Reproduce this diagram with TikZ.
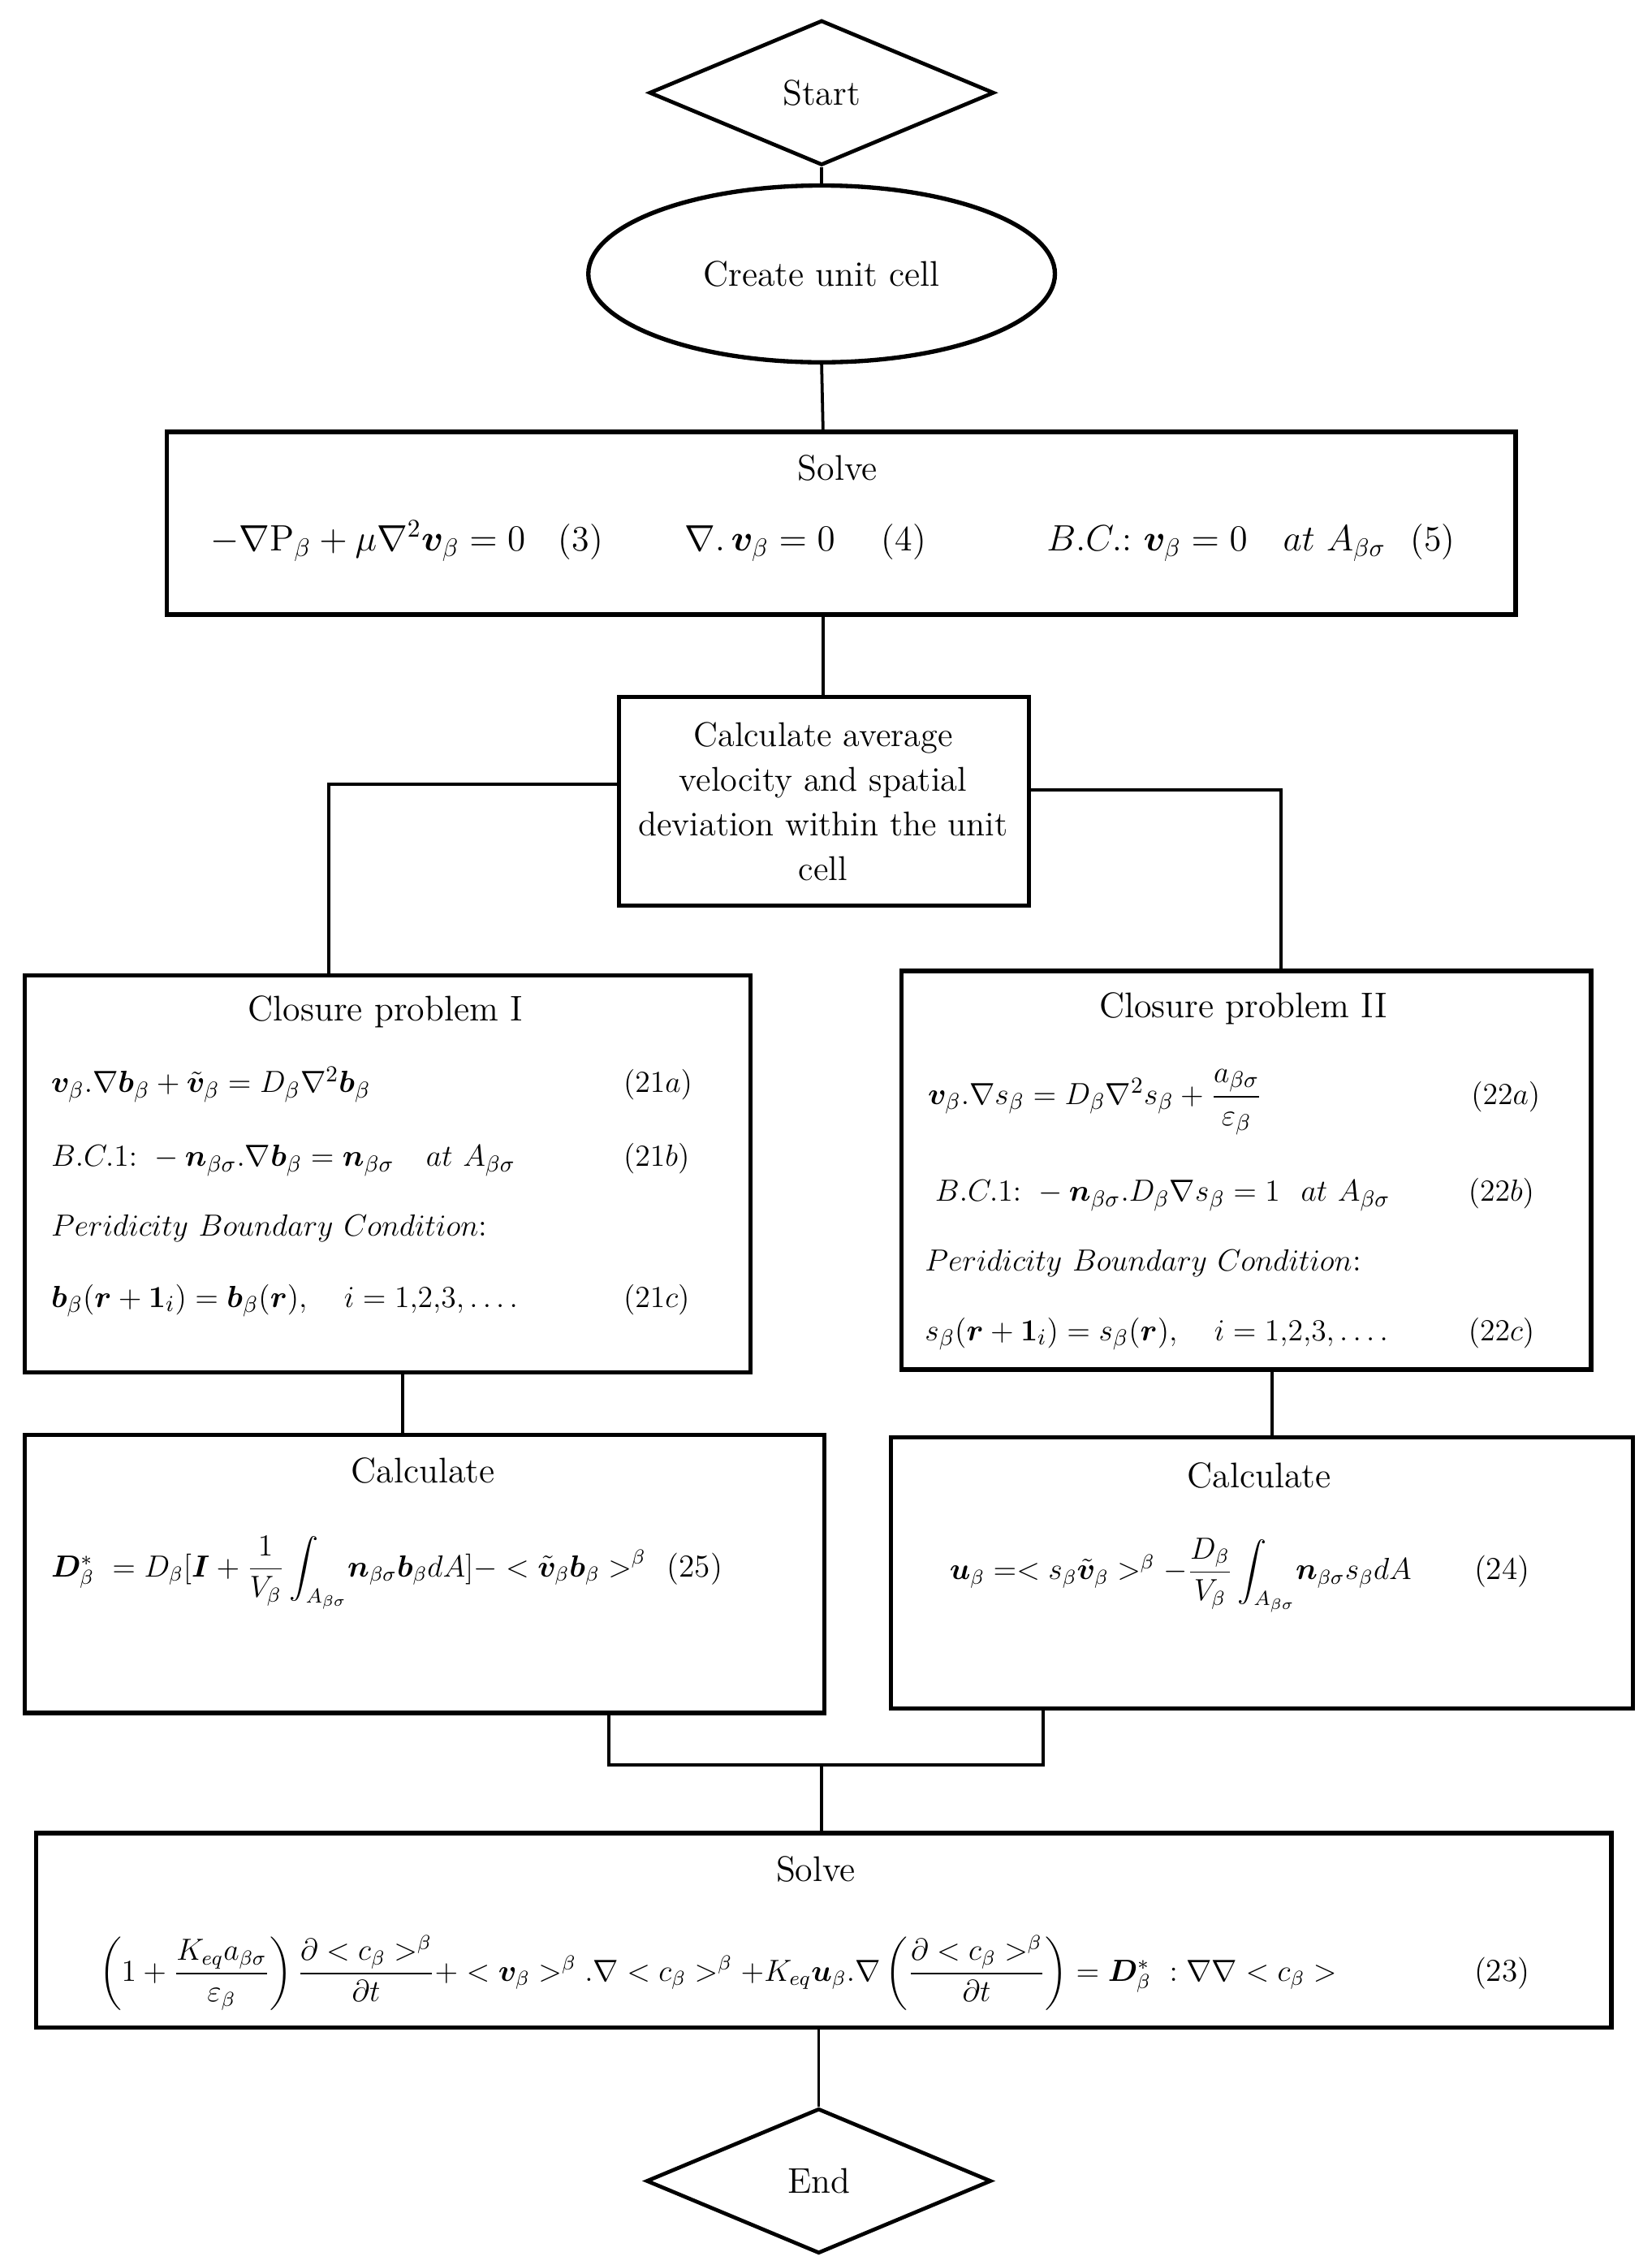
\documentclass[tikz,border=0pt]{standalone}
\usepackage{amsmath,amssymb,bm}
\usetikzlibrary{shapes.geometric}
\begin{document}
\begin{tikzpicture}[x=0.02cm,y=-0.02cm,
  every node/.style={font=\fontsize{14}{17}\selectfont, inner sep=0pt},
  bx/.style={draw, line width=1.7pt},
  ln/.style={line width=1.2pt},
  tx/.style={anchor=base west},
  sm/.style={anchor=base west,font=\fontsize{12.5}{15}\selectfont}]
\useasboundingbox (0,0) rectangle (1140,1563);
% shapes
\node[draw,line width=1.5pt,diamond,aspect=2.38,minimum width=238*0.02cm,minimum height=100*0.02cm] (start) at (567,64) {};
\node at (567,64) {Start};
\node[draw,line width=1.7pt,ellipse,minimum width=322*0.02cm,minimum height=122*0.02cm] (cell) at (567,189) {Create unit cell};
\draw[bx] (115,298) rectangle (1046,424);
\coordinate (s1t) at (568,298); \coordinate (s1b) at (568,424);
\node at (578,323) {Solve};
\node[tx] at (145,380) {$-\nabla\mathrm{P}_\beta+\mu\nabla^2\bm{v}_\beta=0$};
\node[tx] at (385,380) {(3)};
\node[tx] at (472,380) {$\nabla.\,\bm{v}_\beta=0$};
\node[tx] at (608,380) {(4)};
\node[tx] at (722,380) {$B.C.$:\ $\bm{v}_\beta=0\quad at\ A_{\beta\sigma}$};
\node[tx] at (973,380) {(5)};

\draw[bx] (427,481) rectangle (710,625);
\node[align=center,font=\fontsize{13.5}{17.6}\selectfont] at (568,553) {Calculate average\\velocity and spatial\\deviation within the unit\\cell};

\draw[bx] (17,673) rectangle (518,947);
\node at (266,698) {Closure problem I};
\node[sm] at (35,754) {$\bm{v}_\beta.\nabla\bm{b}_\beta+\tilde{\bm{v}}_\beta=D_\beta\nabla^2\bm{b}_\beta$};
\node[sm] at (430,754) {$(21a)$};
\node[sm] at (35,805) {$B.C.1{:}\ -\bm{n}_{\beta\sigma}.\nabla\bm{b}_\beta=\bm{n}_{\beta\sigma}\quad at\ A_{\beta\sigma}$};
\node[sm] at (430,805) {$(21b)$};
\node[sm] at (35,853) {$Peridicity\ Boundary\ Condition$:};
\node[sm] at (35,902) {$\bm{b}_\beta(\bm{r}+\bm{1}_i)=\bm{b}_\beta(\bm{r}),\quad i=1{,}2{,}3,\ldots.$};
\node[sm] at (430,902) {$(21c)$};

\draw[bx] (622,670) rectangle (1098,945);
\node at (858,696) {Closure problem II};
\node[sm] at (640,762) {$\bm{v}_\beta.\nabla s_\beta=D_\beta\nabla^2 s_\beta+\dfrac{a_{\beta\sigma}}{\varepsilon_\beta}$};
\node[sm] at (1015,762) {$(22a)$};
\node[sm] at (645,829) {$B.C.1{:}\ -\bm{n}_{\beta\sigma}.D_\beta\nabla s_\beta=1\ \ at\ A_{\beta\sigma}$};
\node[sm] at (1013,829) {$(22b)$};
\node[sm] at (638,877) {$Peridicity\ Boundary\ Condition$:};
\node[sm] at (638,925) {$s_\beta(\bm{r}+\bm{1}_i)=s_\beta(\bm{r}),\quad i=1{,}2{,}3,\ldots.$};
\node[sm] at (1013,925) {$(22c)$};

\draw[bx] (17,990) rectangle (569,1182);
\node at (292,1015) {Calculate};
\node[anchor=base west,font=\fontsize{11.5}{14}\selectfont] at (35,1088) {$\bm{D}^*_\beta\ =D_\beta[\bm{I}+\dfrac{1}{V_\beta}\displaystyle\int_{A_{\beta\sigma}}\!\bm{n}_{\beta\sigma}\bm{b}_\beta dA]-<\tilde{\bm{v}}_\beta\bm{b}_\beta>^\beta$};
\node[sm] at (460,1088) {(25)};

\draw[bx] (615,992) rectangle (1127,1179);
\node at (869,1018) {Calculate};
\node[anchor=base west,font=\fontsize{11.5}{14}\selectfont] at (655,1090) {$\bm{u}_\beta=<s_\beta\tilde{\bm{v}}_\beta>^\beta-\dfrac{D_\beta}{V_\beta}\displaystyle\int_{A_{\beta\sigma}}\!\bm{n}_{\beta\sigma}s_\beta dA$};
\node[sm] at (1017,1090) {(24)};

\draw[bx] (25,1265) rectangle (1112,1399);
\node at (563,1290) {Solve};
\node[anchor=base west,font=\fontsize{12}{14}\selectfont] at (68,1367) {$\left(1+\dfrac{K_{eq}a_{\beta\sigma}}{\varepsilon_\beta}\right)\dfrac{\partial<c_\beta>^\beta}{\partial t}+<\bm{v}_\beta>^\beta.\nabla<c_\beta>^\beta+K_{eq}\bm{u}_\beta.\nabla\left(\dfrac{\partial<c_\beta>^\beta}{\partial t}\right)=\bm{D}^*_\beta\ :\nabla\nabla<c_\beta>$};
\node[sm] at (1017,1367) {(23)};

\node[draw,line width=1.5pt,diamond,aspect=2.38,minimum width=238*0.02cm,minimum height=100*0.02cm] (end) at (565,1505) {};
\node at (565,1505) {End};

% connectors
\draw[ln] (start.south) -- (cell.north);
\draw[ln] (cell.south) -- (s1t);
\draw[ln] (s1b) -- (568,481);
\draw[ln] (427,541) -| (227,673);
\draw[ln] (710,545) -| (884,670);
\draw[ln] (278,947) -- (278,990);
\draw[ln] (878,945) -- (878,992);
\draw[ln] (420,1182) |- (720,1218) -- (720,1179);
\draw[ln] (567,1218) -- (567,1265);
\draw[ln] (565,1399) -- (end.north);
\end{tikzpicture}
\end{document}
